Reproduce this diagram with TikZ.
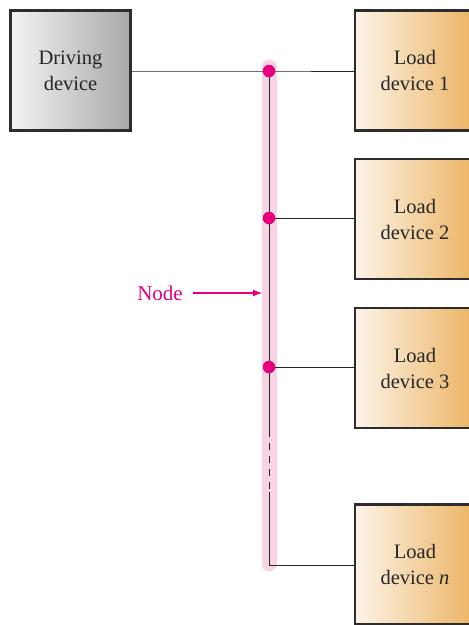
\documentclass[tikz,border=0pt]{standalone}
\usepackage{fontspec}
\setmainfont{Liberation Serif}
\usetikzlibrary{arrows.meta}
\definecolor{magentaA}{HTML}{E6007E}
\definecolor{pinkband}{HTML}{F7D3E4}
\definecolor{boxline}{HTML}{2E2C2D}
\definecolor{grayR}{HTML}{A6A8AB}
\definecolor{grayL}{HTML}{F4F4F4}
\definecolor{orangeR}{HTML}{EBB363}
\definecolor{orangeL}{HTML}{FDF4E8}
\begin{document}
\begin{tikzpicture}[x=1pt,y=-1pt,
  devbox/.style={draw=boxline,line width=2.4pt,minimum width=120pt,minimum height=120pt,
    inner sep=0pt,align=center,font=\fontsize{20.5}{26}\selectfont,text=black!85},
  drivebox/.style={devbox,left color=grayL,right color=grayR},
  loadbox/.style={devbox,left color=orangeL,right color=orangeR},
  wire/.style={line width=1pt,black!85},
  dot/.style={circle,fill=magentaA,inner sep=0pt,minimum size=12.5pt}]
\clip (0,0) rectangle (469,625);
\fill[white] (0,0) rectangle (469,625);
% pink band
\draw[pinkband,line width=15pt,line cap=round] (269,67) -- (269,564);
% boxes
\node[drivebox] (drv) at (70.5,70.5) {Driving\\device};
\node[loadbox] (l1) at (415,70.5) {Load\\device 1};
\node[loadbox] (l2) at (415,219) {Load\\device 2};
\node[loadbox] (l3) at (415,368) {Load\\device 3};
\node[loadbox] (ln) at (415,564.5) {Load\\device \textit{n}};
% junction coordinates
\coordinate (j1) at (269,71);
\coordinate (j2) at (269,218);
\coordinate (j3) at (269,367);
\coordinate (jd1) at (269,430);
\coordinate (jd2) at (269,492);
\coordinate (jn) at (269,565);
% wires
\draw[wire] (drv.east |- j1) -- (j1) -- (l1.west |- j1);
\draw[wire] (j1) -- (jd1);
\draw[wire,dash pattern=on 7pt off 6pt] (jd1) -- (jd2);
\draw[wire] (jd2) -- (jn) -- (ln.west |- jn);
\draw[wire] (j2) -- (l2.west |- j2);
\draw[wire] (j3) -- (l3.west |- j3);
% dots
\node[dot] (d1) at (j1) {};
\node[dot] (d2) at (j2) {};
\node[dot] (d3) at (j3) {};
% label
\node[text=magentaA,font=\fontsize{21}{24}\selectfont] (lbl) at (160,293) {Node};
\coordinate (bandedge) at (262,293);
\draw[magentaA,line width=1.1pt,-{Latex[length=9pt,width=7pt]}] (193,293) -- (bandedge);
\end{tikzpicture}
\end{document}
